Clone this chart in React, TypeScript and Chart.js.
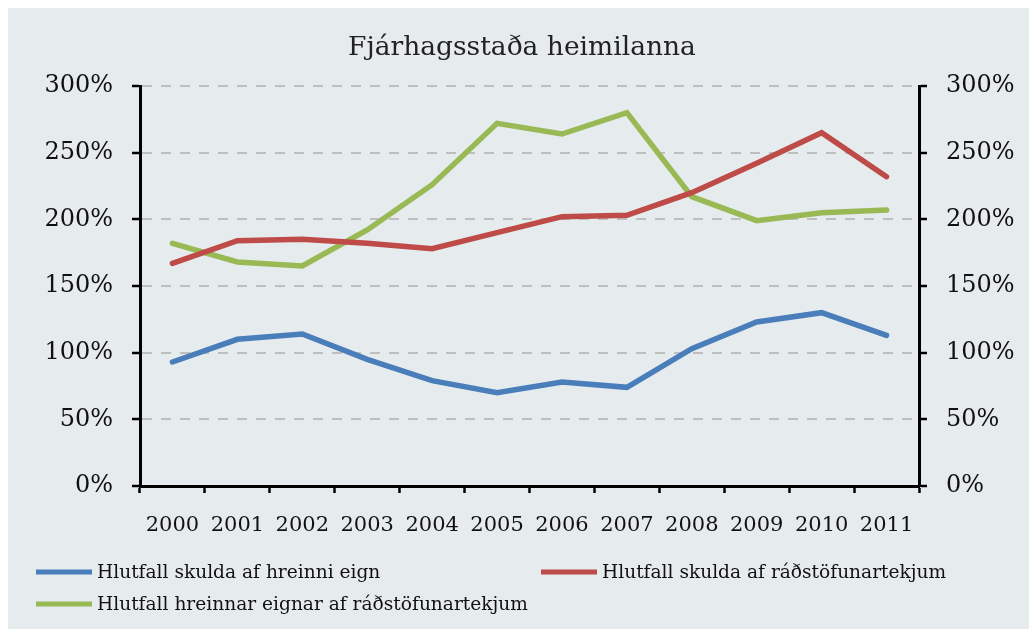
import React, { useEffect, useRef } from "react";
import { Chart, registerables } from "chart.js";

Chart.register(...registerables);

const categories = ["2000", "2001", "2002", "2003", "2004", "2005", "2006", "2007", "2008", "2009", "2010", "2011"];
const debtToNetWorth = [93, 110, 114, 95, 79, 70, 78, 74, 103, 123, 130, 113];
const debtToIncome = [167, 184, 185, 182, 178, 190, 202, 203, 220, 242, 265, 232];
const netWorthToIncome = [182, 168, 165, 192, 226, 272, 264, 280, 217, 199, 205, 207];
const seriesLabels = [
  "Hlutfall skulda af hreinni eign",
  "Hlutfall skulda af ráðstöfunartekjum",
  "Hlutfall hreinnar eignar af ráðstöfunartekjum",
];
const titleText = "Fjárhagsstaða heimilanna";
const yTicks = [0, 50, 100, 150, 200, 250, 300];

const COLORS = ["#4a7ebb", "#be4b48", "#98b954"];
const FONT = "'DejaVu Serif', serif";

export default function App() {
  const ref = useRef<HTMLCanvasElement | null>(null);

  useEffect(() => {
    if (!ref.current) return;
    const bgPlugin = {
      id: "bg",
      beforeDraw(chart: any) {
        const { ctx, width, height } = chart;
        ctx.save();
        ctx.fillStyle = "#e6ebee";
        ctx.fillRect(0, 0, width, height);
        ctx.restore();
      },
    };
    const decoPlugin = {
      id: "deco",
      afterDraw(chart: any) {
        const { ctx } = chart;
        ctx.save();
        ctx.fillStyle = "#222";
        ctx.font = `26.5px ${FONT}`;
        ctx.textAlign = "center";
        ctx.textBaseline = "alphabetic";
        ctx.fillText(titleText, 514, 47);

        const items = [
          { x: 28, y: 564 },
          { x: 533, y: 564 },
          { x: 28, y: 596 },
        ];
        chart.data.datasets.forEach((ds: any, i: number) => {
          const it = items[i];
          ctx.strokeStyle = ds.borderColor;
          ctx.lineWidth = 5;
          ctx.lineCap = "butt";
          ctx.beginPath();
          ctx.moveTo(it.x, it.y);
          ctx.lineTo(it.x + 56, it.y);
          ctx.stroke();
          ctx.fillStyle = "#111";
          ctx.font = `18.6px ${FONT}`;
          ctx.textAlign = "left";
          ctx.textBaseline = "middle";
          ctx.fillText(ds.label, it.x + 61, it.y + 1);
        });
        ctx.restore();
      },
    };

    const yCommon = (pos: "left" | "right", onArea: boolean) => ({
      type: "linear" as const,
      position: pos,
      min: 0,
      max: 300,
      afterBuildTicks(scale: any) {
        scale.ticks = yTicks.map((v) => ({ value: v }));
      },
      afterFit(scale: any) {
        scale.width = pos === "left" ? 132 : 110;
      },
      ticks: {
        color: "#111",
        font: { family: FONT, size: 24 },
        padding: 19,
        callback: (v: any) => `${v}%`,
      },
      grid: {
        display: true,
        drawOnChartArea: onArea,
        color: "#bfbfbf",
        lineWidth: 2,
        drawTicks: true,
        tickLength: 8,
        tickColor: "#000",
        tickWidth: 2.5,
        tickBorderDash: [],
      },
      border: { display: true, color: "#000", width: 3, dash: [10, 9] },
    });

    const chart = new Chart(ref.current, {
      type: "line",
      data: {
        labels: categories,
        datasets: [
          { label: seriesLabels[0], data: debtToNetWorth, borderColor: COLORS[0], yAxisID: "y" },
          { label: seriesLabels[1], data: debtToIncome, borderColor: COLORS[1], yAxisID: "y" },
          { label: seriesLabels[2], data: netWorthToIncome, borderColor: COLORS[2], yAxisID: "y" },
        ].map((d) => ({
          ...d,
          backgroundColor: d.borderColor,
          borderWidth: 5.5,
          pointRadius: 0,
          tension: 0,
          fill: false,
          borderCapStyle: "round" as const,
        })),
      },
      options: {
        animation: false,
        responsive: false,
        maintainAspectRatio: false,
        layout: { padding: { top: 78, bottom: 83, left: 0, right: 0 } },
        plugins: {
          legend: { display: false },
          title: { display: false },
          tooltip: { enabled: false },
        },
        scales: {
          x: {
            type: "category",
            offset: true,
            afterFit(scale: any) {
              scale.height = 60;
            },
            ticks: {
              color: "#111",
              font: { family: FONT, size: 21 },
              padding: 20,
              maxRotation: 0,
              autoSkip: false,
            },
            grid: {
              display: true,
              offset: true,
              drawOnChartArea: false,
              drawTicks: true,
              tickLength: 7,
              tickColor: "#000",
              tickWidth: 2.5,
            },
            border: { display: true, color: "#000", width: 3 },
          },
          y: yCommon("left", true),
          y2: yCommon("right", false),
        },
      },
      plugins: [bgPlugin, decoPlugin],
    });
    return () => chart.destroy();
  }, []);

  return (
    <div style={{ position: "fixed", left: 8, top: 8, width: 1021, height: 621 }}>
      <canvas ref={ref} width={1021} height={621} style={{ display: "block", width: 1021, height: 621 }} />
    </div>
  );
}
